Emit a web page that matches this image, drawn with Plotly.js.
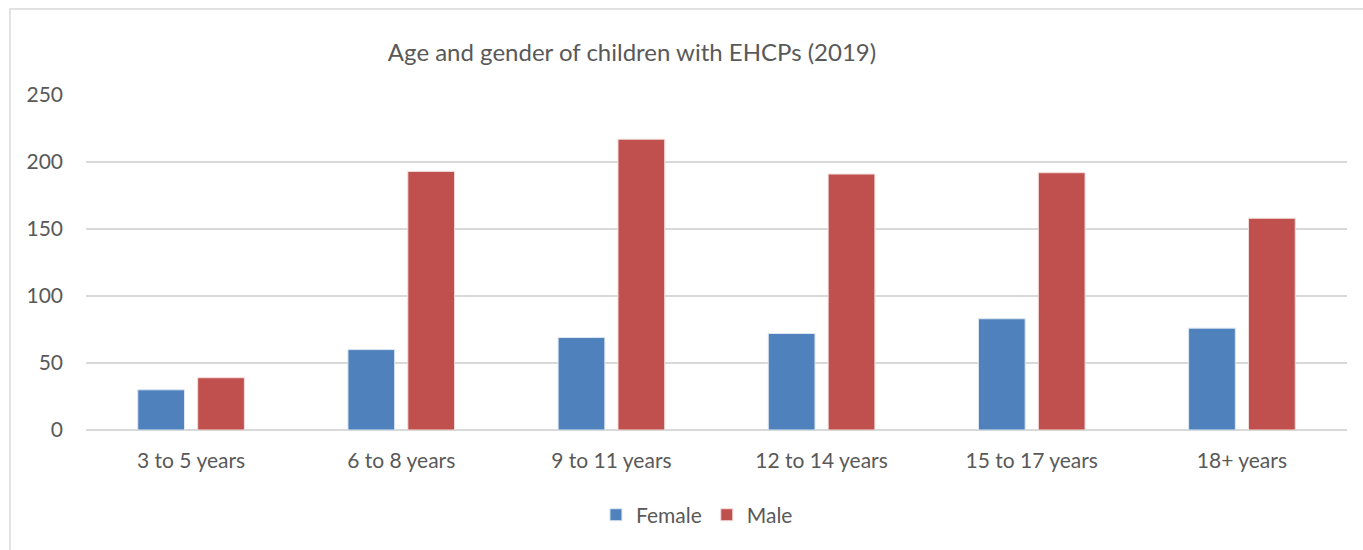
<!DOCTYPE html>
<html>
<head>
<meta charset="utf-8">
<script src="https://cdn.plot.ly/plotly-3.0.1.min.js"></script>
<style>html,body{margin:0;padding:0;background:#fff;}#chart{width:1363px;height:550px;}</style>
</head>
<body>
<div id="chart"></div>
<script>
const categories = ["3 to 5 years", "6 to 8 years", "9 to 11 years", "12 to 14 years", "15 to 17 years", "18+ years"];
const female = [30, 60, 69, 72, 83, 76];
const male = [39, 193, 217, 191, 192, 158];
const yTicks = [0, 50, 100, 150, 200, 250];

const textColor = "#595959";
const font = "Lato, Liberation Sans, Arial, sans-serif";

const traces = [
  {type: "bar", name: "Female", x: categories, y: female,
   marker: {color: "#4F81BD", line: {color: "#dce6f2", width: 1}}},
  {type: "bar", name: "Male", x: categories, y: male,
   marker: {color: "#C0504D", line: {color: "#f2dcdb", width: 1}}}
];

const layout = {
  width: 1363, height: 550,
  margin: {l: 86, r: 16, t: 95, b: 120, pad: 0},
  paper_bgcolor: "#ffffff", plot_bgcolor: "#ffffff",
  font: {family: font, color: textColor, size: 21},
  title: {text: "Age and gender of children with EHCPs (2019)", font: {family: font, size: 24, color: textColor},
          xref: "container", x: 0.4637, xanchor: "center", yref: "container", y: 0.905, yanchor: "middle"},
  barmode: "group", bargap: 0.43, bargroupgap: 0.22,
  xaxis: {type: "category", showgrid: false, showline: false, zeroline: false, ticks: "",
          ticklabelstandoff: 16, tickfont: {size: 21, color: textColor}},
  yaxis: {range: [0, 250], tickvals: yTicks, ticktext: yTicks.map(String), showgrid: true,
          gridcolor: "#d9d9d9", gridwidth: 1.5, zeroline: true, zerolinecolor: "#d9d9d9", zerolinewidth: 1.5,
          showline: false, ticks: "", ticklabelstandoff: 22, tickfont: {size: 21, color: textColor}},
  showlegend: true,
  legend: {orientation: "h", x: 0.4845, xanchor: "center", y: -0.254, yanchor: "middle",
           font: {size: 21, color: textColor}, itemwidth: 30, traceorder: "normal"},
  shapes: [{type: "rect", xref: "paper", yref: "paper", x0: -0.0603, x1: 1.1, y0: -0.5, y1: 1.2567,
            line: {color: "#d9d9d9", width: 1.5}, fillcolor: "rgba(0,0,0,0)", layer: "below"}]
};

Plotly.newPlot("chart", traces, layout, {displayModeBar: false, staticPlot: true});
</script>
</body>
</html>
